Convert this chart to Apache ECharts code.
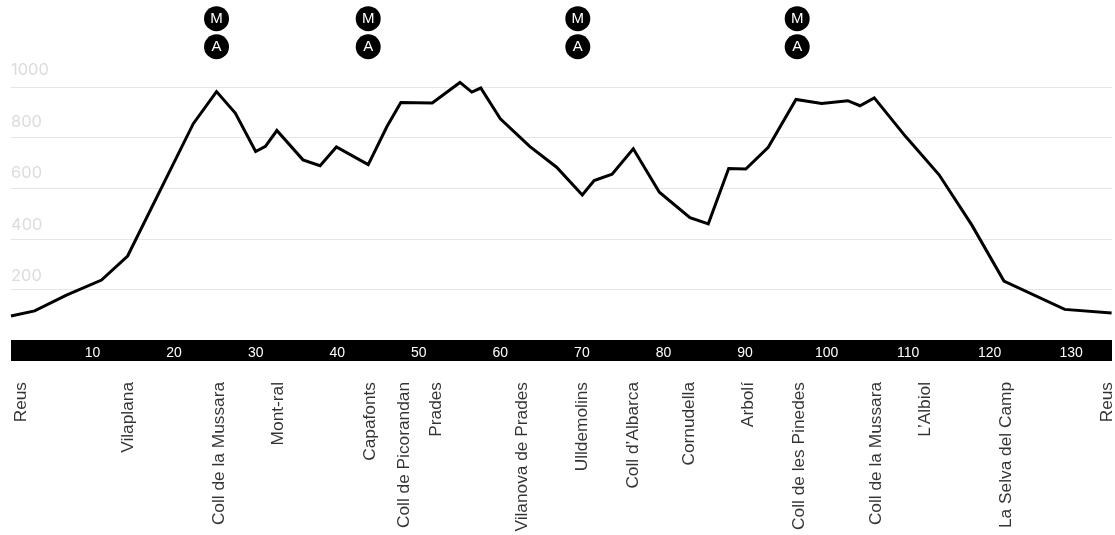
<!DOCTYPE html>
<html>
<head>
<meta charset="utf-8">
<style>html,body{margin:0;padding:0;background:#fff}#c{width:1115px;height:535px}</style>
<script src="https://cdn.jsdelivr.net/npm/echarts@6/dist/echarts.min.js"></script>
</head>
<body>
<div id="c"></div>
<script>
const distanceKm = [0,2.9,6.8,11.1,14.3,22.35,25.2,27.5,30,31.2,32.6,35.8,37.9,39.9,43.8,46.1,47.8,51.65,55.05,56.5,57.6,60,63.6,66.9,70.05,71.5,73.7,76.3,79.5,83.25,85.5,88,90.1,92.85,96.25,99.4,102.6,104.1,105.85,109.7,113.8,117.8,121.75,129.2,134.95];
const elevation = [95,115,177,237,332,855,982,897,745,765,828,712,689,763,693,844,939,937,1018,980,996,874,765,683,573,630,655,756,584,484,459,678,676,762,951,935,946,926,957,804,653,455,233,121,107];
const placeNames = ["Reus","Vilaplana","Coll de la Mussara","Mont-ral","Capafonts","Coll de Picorandan","Prades","Vilanova de Prades","Ulldemolins","Coll d’Albarca","Cornudella","Arbolí","Coll de les Pinedes","Coll de la Mussara","L’Albiol","La Selva del Camp","Reus"];
const placeKm = [1.1,14.2,25.4,32.6,43.9,48,51.9,62.5,69.9,76.1,83,90.2,96.5,105.9,111.9,121.8,134.2];
const badgeKm = [25.2,43.8,69.5,96.4];
const badgeM = 1270;
const badgeA = 1159;

const FONT = '"Liberation Sans", Arial, sans-serif';
const chart = echarts.init(document.getElementById('c'), null, {renderer:'canvas'});
const badge = (name, y) => ({
  type:'scatter', silent:true, clip:false, symbol:'circle', symbolSize:25, z:5,
  itemStyle:{color:'#000',opacity:1},
  label:{show:true,position:'inside',formatter:name,color:'#fff',fontFamily:FONT,fontSize:15},
  data:badgeKm.map(k=>[k,y])
});
chart.setOption({
  animation:false,
  backgroundColor:'#fff',
  grid:[
    {left:11,right:3,top:87,bottom:195},
    {left:11,right:3,top:87,height:257.5}
  ],
  xAxis:[{
    type:'value',min:0,max:135,interval:10,offset:10.5,position:'bottom',
    splitLine:{show:false},axisTick:{show:false},
    axisLine:{show:true,onZero:false,lineStyle:{color:'#000',width:21,cap:'butt'}},
    axisLabel:{show:true,showMinLabel:false,showMaxLabel:false,color:'#fff',fontFamily:FONT,fontSize:14,margin:-4.5,verticalAlign:'top',hideOverlap:false}
  },{
    gridIndex:1,type:'value',min:0,max:135,show:false
  }],
  yAxis:[{
    type:'value',min:0,max:1000,interval:200,
    axisLine:{show:false},axisTick:{show:false},axisLabel:{show:false},
    splitLine:{show:true,lineStyle:{color:'#e6e6e6',width:1}}
  },{
    gridIndex:1,type:'value',min:0,max:1000,interval:200,
    axisLine:{show:false},axisTick:{show:false},splitLine:{show:false},
    axisLabel:{show:true,inside:true,margin:0,showMinLabel:false,color:'#dcdcdc',fontFamily:'Inter, "Liberation Sans", sans-serif',fontSize:16.5,verticalAlign:'bottom',padding:[0,0,8,0],formatter:v=>String(v)}
  }],
  series:[
    {type:'line',silent:true,clip:false,symbol:'none',z:3,lineStyle:{color:'#000',width:3,join:'miter'},
     data:distanceKm.map((k,i)=>[k,elevation[i]])},
    badge('M',badgeM),
    badge('A',badgeA),
    {type:'scatter',silent:true,clip:false,symbol:'circle',symbolSize:0,z:4,
     label:{show:true,position:'inside',rotate:90,align:'right',verticalAlign:'middle',offset:[-42,1.5],color:'#000',fontFamily:FONT,fontSize:17.3,
       formatter:p=>placeNames[p.dataIndex]},
     data:placeKm.map(k=>[k,0])}
  ]
});
</script>
</body>
</html>
